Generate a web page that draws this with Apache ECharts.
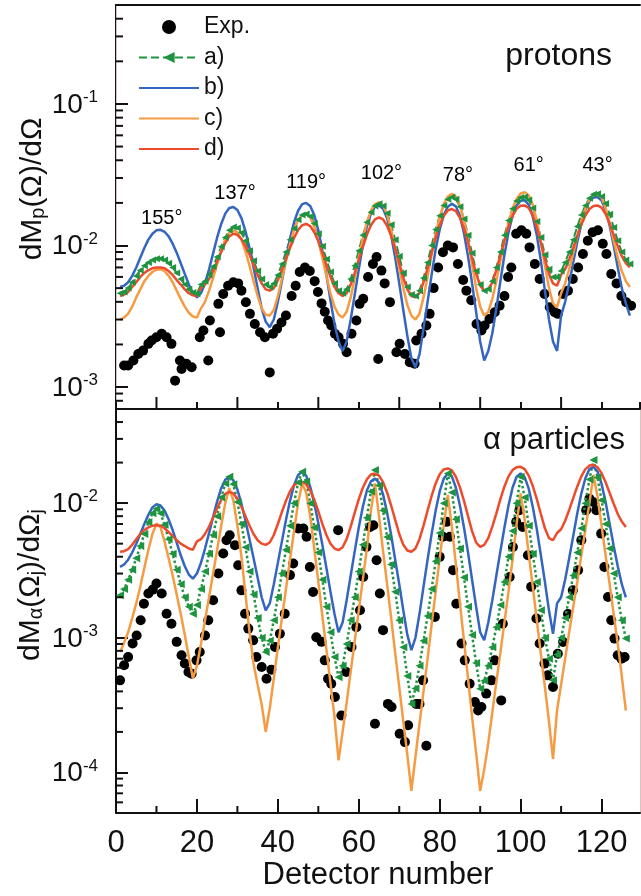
<!DOCTYPE html>
<html>
<head>
<meta charset="utf-8">
<script src="https://cdn.jsdelivr.net/npm/echarts@6.0.0/dist/echarts.min.js"></script>
<style>
html,body{margin:0;padding:0;background:#fff;}
#chart{width:641px;height:896px;}
</style>
</head>
<body>
<div id="chart"></div>
<script>
// ---------- DATA (theory curves in units of 1e-3, one value per detector) ----------
// Upper panel: protons, detectors 1..127
const protA = [4.6,4.7,5.0,5.5,6.1,6.7,7.2,7.6,7.9,8.05,8.05,7.9,7.5,7.0,6.4,5.8,5.3,4.9,4.65,4.57,
  5.3,5.6,6.2,7.1,8.3,9.8,11.4,12.8,13.5,13.3,12.3,10.8,9.2,7.8,6.6,5.8,5.3,5.1,
  5.4,6.2,7.4,9.0,11.0,13.2,15.2,16.4,16.7,16.0,14.3,12.1,9.9,8.0,6.5,5.4,4.8,4.6,
  4.9,5.8,7.2,9.2,11.8,14.6,17.2,19.0,19.7,19.0,16.9,14.0,11.0,8.4,6.4,5.1,4.5,4.4,
  4.8,5.9,7.6,10.0,13.0,16.2,19.2,21.2,22.0,21.2,18.8,15.4,11.8,8.8,6.6,5.3,4.8,4.9,
  5.6,7.0,9.0,11.8,15.0,18.2,20.6,21.8,22.0,21.0,18.4,14.8,11.4,8.6,6.8,6.0,5.97,
  6.6,7.6,9.0,11.0,13.6,16.4,19.2,21.6,23.0,23.2,22.2,19.8,16.6,13.4,10.8,9.0,7.9,7.4];
const protB = [5.1,5.2,5.5,6.1,7.0,8.2,9.6,11.0,12.1,12.8,12.9,12.5,11.6,10.3,8.9,7.5,6.3,5.3,4.6,4.3,
  4.6,5.4,6.8,8.8,11.4,14.2,16.8,18.4,18.7,17.8,15.6,12.6,9.6,7.0,5.0,3.6,2.9,2.65,
  3.0,4.0,5.6,8.0,11.2,14.6,17.6,19.6,20.0,19.0,16.4,12.8,9.2,6.2,4.1,2.8,2.1,1.8,
  2.1,3.0,4.5,6.8,10.0,13.6,16.8,18.8,19.2,18.2,15.6,11.8,8.2,5.4,3.5,2.3,1.6,1.38,
  1.7,2.6,4.0,6.2,9.4,13.0,16.4,18.8,19.7,18.9,16.2,12.2,8.4,5.4,3.4,2.1,1.54,
  1.8,2.4,3.6,5.6,8.6,12.4,16.2,19.2,20.7,20.9,19.4,16.0,11.8,7.8,4.8,3.0,2.1,1.8,
  3.2,4.0,5.4,7.6,10.6,14.2,17.8,20.6,21.8,22.0,20.8,17.8,13.8,10.0,7.0,5.0,3.9,3.2];
const protC = [3.0,3.1,3.3,3.7,4.3,4.9,5.6,6.1,6.5,6.75,6.8,6.6,6.1,5.5,4.8,4.2,3.7,3.35,3.15,3.1,
  3.6,4.0,4.8,5.9,7.4,9.2,11.0,12.3,12.8,12.4,11.0,9.1,7.2,5.6,4.4,3.6,3.25,3.2,
  3.5,4.4,5.8,7.8,10.2,12.9,15.2,16.4,16.7,15.8,13.6,10.8,8.2,6.1,4.6,3.7,3.25,3.1,
  3.4,4.3,5.9,8.2,11.2,14.6,17.6,19.6,20.2,19.2,16.6,13.0,9.6,6.9,5.0,3.8,3.2,3.0,
  3.3,4.3,6.0,8.6,12.0,15.8,19.6,22.2,23.2,22.2,19.2,15.0,10.8,7.4,5.0,3.7,3.2,3.4,
  4.2,5.6,7.8,10.8,14.4,18.2,21.4,23.3,23.8,22.6,19.4,15.0,10.6,7.2,5.0,3.9,3.66,
  4.6,5.4,6.8,8.8,11.6,14.8,18.2,21.2,22.9,23.2,21.8,18.4,14.4,10.8,8.2,6.6,5.6,5.1];
const protD = [4.4,4.5,4.7,5.1,5.5,6.0,6.4,6.7,6.9,7.0,7.0,6.9,6.6,6.2,5.7,5.3,4.9,4.6,4.45,4.4,
  5.0,5.3,5.8,6.6,7.7,9.0,10.4,11.6,12.1,11.9,11.1,9.9,8.6,7.3,6.2,5.4,4.9,4.8,
  5.0,5.7,6.7,8.0,9.6,11.3,12.9,13.9,14.2,13.7,12.4,10.7,8.9,7.3,6.0,5.1,4.6,4.4,
  4.6,5.3,6.4,7.9,9.8,11.9,13.9,15.3,15.8,15.3,13.8,11.7,9.5,7.5,5.9,4.9,4.4,4.3,
  4.6,5.5,6.9,8.9,11.3,13.9,16.2,17.7,18.1,17.5,15.7,13.2,10.5,8.1,6.3,5.2,4.8,4.9,
  5.5,6.7,8.5,10.9,13.6,16.2,18.2,19.1,19.2,18.4,16.3,13.4,10.5,8.0,6.3,5.4,5.2,
  6.2,6.8,8.0,9.6,11.7,14.0,16.3,18.1,19.0,19.2,18.5,16.7,14.3,11.9,9.9,8.4,7.5,7.0];
// Experimental protons: detector position, value (1e-3)
const protExpX = [2.0,3.0,4.3,5.5,6.7,8.0,8.8,10.0,11.3,12.5,13.7,14.6,15.8,16.2,17.4,18.7,20.7,21.6,22.8,23.2,
  25.3,25.7,26.5,27.7,29.0,30.2,31.0,32.1,33.1,34.3,35.6,36.8,38.0,38.8,39.8,40.9,42.0,43.4,44.4,45.4,
  46.7,47.9,49.1,49.9,50.8,51.6,52.4,53.2,54.1,55.0,56.1,57.0,58.2,59.4,60.2,61.1,62.3,63.5,64.4,64.8,
  65.6,66.4,67.7,69.3,70.1,71.4,72.6,73.8,74.2,75.5,76.7,77.5,78.5,79.6,80.8,82.0,83.3,84.5,85.8,86.6,
  87.8,89.1,90.3,91.1,92.3,93.6,94.8,96.0,96.9,97.7,98.9,100.2,101.4,102.2,103.5,104.7,105.9,107.2,108.4,109.2,
  110.5,111.7,112.9,114.2,115.4,116.6,117.8,119.1,120.3,121.2,122.4,123.7,124.9,126.1,127.3];
const protExpY = [1.42,1.42,1.54,1.71,1.81,2.02,2.13,2.25,2.38,2.25,2.02,1.11,1.54,1.34,1.46,1.38,2.25,2.51,1.54,2.95,
  3.87,2.44,4.55,5.2,5.5,5.4,4.8,3.97,3.29,2.79,2.44,2.25,1.27,2.38,2.58,2.86,3.2,4.4,5.2,6.5,
  7.0,6.6,5.6,4.7,3.9,3.4,2.95,2.72,2.38,2.25,2.02,1.76,2.38,2.95,3.87,4.2,6.0,7.4,8.3,1.58,
  6.65,5.4,3.98,1.76,2.02,1.71,1.5,1.46,2.13,2.38,2.72,3.29,5.0,7.0,8.97,10.0,9.7,7.4,5.7,4.8,
  4.1,2.79,2.51,2.72,3.03,3.38,3.76,4.4,6.0,7.0,12.1,12.8,12.1,9.7,7.4,5.8,4.55,3.66,3.38,3.29,
  4.55,4.8,5.8,7.0,8.7,10.8,12.4,12.8,10.3,8.7,6.3,5.4,4.4,3.97,3.76];

// Lower panel: alpha particles, detectors 1..126
const alphaA = [2.07,2.3,2.7,3.2,3.9,4.8,5.9,7.2,8.4,9.1,8.4,6.9,5.4,4.2,3.2,2.5,2.0,1.7,1.51,
  1.75,2.3,3.1,4.2,5.8,8.0,11.0,14.0,15.7,13.8,10.2,7.0,4.7,3.1,2.1,1.4,1.0,0.785,
  0.95,1.35,2.0,3.0,4.5,6.8,10.0,14.2,17.1,14.5,10.0,6.6,4.3,2.7,1.7,1.1,0.72,0.51,
  0.62,0.9,1.35,2.0,3.1,4.9,7.8,12.2,17.6,13.5,8.8,5.6,3.5,2.2,1.35,0.85,0.52,0.323,
  0.42,0.62,0.95,1.45,2.3,3.7,6.0,10.0,16.6,12.0,7.6,4.6,2.8,1.7,1.05,0.65,0.419,0.48,
  0.62,0.85,1.2,1.75,2.6,4.0,6.2,10.0,15.7,11.0,6.8,4.2,2.6,1.6,1.0,0.7,0.483,
  0.75,1.0,1.4,2.0,2.9,4.3,6.5,10.0,15.0,20.9,15.5,10.5,7.0,4.6,3.0,2.0,1.35,0.99];
const alphaB = [3.36,3.5,3.8,4.3,5.0,5.9,7.0,8.2,9.3,9.8,9.6,8.8,7.6,6.3,5.1,4.1,3.4,2.95,2.75,
  3.0,3.6,4.6,6.0,7.9,10.3,12.9,14.9,15.7,14.8,12.6,9.9,7.4,5.4,3.9,2.8,2.0,1.6,
  1.8,2.5,3.6,5.2,7.5,10.4,13.6,16.2,17.1,16.0,13.2,10.0,7.1,4.9,3.3,2.2,1.5,1.1,
  1.3,1.9,2.9,4.4,6.6,9.4,12.4,14.5,15.2,14.2,11.6,8.5,5.8,3.8,2.5,1.6,1.05,0.81,
  1.0,1.5,2.4,3.8,5.9,8.8,12.2,15.2,16.6,15.8,13.0,9.6,6.6,4.3,2.7,1.7,1.1,0.96,
  1.3,1.9,2.9,4.4,6.6,9.6,13.0,15.7,16.6,15.6,12.8,9.4,6.4,4.1,2.6,1.6,1.07,
  1.8,2.0,2.7,3.9,5.7,8.4,11.8,15.3,17.9,18.6,17.2,13.9,10.2,7.0,4.8,3.4,2.5,2.0];
const alphaC = [0.785,0.92,1.1,1.4,1.8,2.4,3.3,4.5,5.9,7.06,6.6,5.2,3.9,2.9,2.1,1.5,1.05,0.72,0.50,
  0.62,0.9,1.35,2.0,3.0,4.5,6.8,10.0,12.9,10.5,6.8,4.0,2.1,1.1,0.64,0.45,0.32,0.20,
  0.3,0.5,0.85,1.4,2.3,3.8,6.2,10.0,14.0,12.0,8.0,4.6,2.6,1.45,0.82,0.46,0.26,0.123,
  0.2,0.33,0.56,0.95,1.6,2.7,4.6,8.8,14.0,8.0,4.4,2.5,1.4,0.77,0.43,0.24,0.135,0.073,
  0.13,0.23,0.4,0.7,1.25,2.2,3.9,6.8,11.5,6.7,3.5,1.8,0.95,0.5,0.26,0.14,0.073,0.105,
  0.165,0.28,0.47,0.78,1.3,2.2,3.8,7.0,11.8,7.5,4.2,2.4,1.35,0.76,0.43,0.24,0.126,
  0.29,0.45,0.7,1.1,1.7,2.6,4.1,6.4,10.0,16.2,11.2,6.8,4.1,2.5,1.5,0.9,0.52,0.288];
const alphaD = [4.35,4.4,4.55,4.9,5.4,5.9,6.3,6.6,6.8,6.86,6.8,6.5,6.1,5.7,5.3,5.0,4.8,4.6,4.5,
  5.2,5.4,5.9,6.7,7.8,9.2,10.6,11.7,12.1,11.8,10.8,9.4,8.0,6.8,5.9,5.3,5.0,4.9,
  5.1,5.8,7.0,8.6,10.4,12.2,13.6,14.3,14.4,13.8,12.4,10.6,8.7,7.0,5.8,5.0,4.6,4.47,
  4.7,5.4,6.7,8.5,10.7,13.0,15.0,16.3,16.6,16.0,14.3,12.0,9.6,7.5,5.9,4.9,4.45,4.35,
  4.6,5.4,6.8,8.8,11.3,14.0,16.4,17.8,18.1,17.5,15.7,13.1,10.4,8.0,6.2,5.1,4.73,4.9,
  5.5,6.7,8.4,10.7,13.3,15.8,17.6,18.5,18.6,17.9,16.0,13.4,10.7,8.3,6.5,5.5,5.3,
  6.0,6.4,7.4,8.9,10.9,13.3,15.8,17.9,19.0,19.2,18.5,16.7,14.3,11.9,9.9,8.3,7.3,6.66];
const alphaExpX = [1.0,2.0,3.0,4.1,5.1,6.1,6.9,8.0,9.1,10.0,11.3,12.5,13.7,15.0,16.2,17.0,17.9,18.7,19.9,20.7,
  22.0,22.8,24.0,25.3,26.5,27.3,28.1,29.4,30.2,31.0,31.9,32.7,33.9,34.7,36.0,37.2,38.4,39.3,40.5,41.7,
  43.0,43.8,45.0,46.3,47.1,47.9,48.7,49.5,50.8,51.6,52.4,53.2,54.1,54.9,55.7,56.9,58.2,59.4,60.3,61.1,
  61.9,62.8,63.6,64.0,64.4,65.2,66.0,67.2,68.1,70.1,71.4,72.2,74.2,75.0,75.9,76.7,78.8,80.0,80.8,81.7,
  82.5,83.3,84.1,85.4,86.2,87.4,88.7,89.5,90.3,91.5,92.8,93.6,95.2,95.6,97.3,98.1,98.9,99.7,100.5,101.8,
  102.6,103.9,104.7,105.9,106.7,108.0,109.2,110.5,111.7,112.9,114.2,115.0,116.2,117.0,117.9,118.7,119.9,120.7,121.6,122.4,
  123.2,124.0,124.9,125.7];
const alphaExpY = [0.483,0.625,0.72,0.906,1.04,1.35,1.79,2.13,2.28,2.53,2.13,1.51,1.27,0.933,0.741,0.645,0.557,0.541,0.68,0.785,
  1.04,1.35,1.9,3.0,4.23,5.3,5.78,4.87,3.46,2.25,1.51,1.17,0.957,0.72,0.607,0.497,0.58,0.855,1.07,1.51,
  2.92,3.56,6.48,6.48,5.62,3.36,2.19,1.01,0.933,0.68,0.497,0.456,0.363,6.3,0.265,0.557,0.855,1.2,1.6,2.83,
  4.73,6.66,6.85,0.23,3.77,2.13,1.14,0.323,0.306,0.194,0.168,0.224,0.323,0.323,0.483,0.158,1.43,3.99,5.62,7.26,
  5.62,3.18,1.79,0.906,0.68,0.456,0.333,0.289,0.306,0.385,0.483,0.68,0.343,1.27,2.83,4.73,7.26,8.87,6.66,4.1,
  2.39,1.39,0.906,0.643,0.526,0.431,0.762,0.931,1.5,2.25,3.18,5.31,8.87,10.8,10.2,8.87,5.94,3.36,2.01,1.35,
  0.986,0.741,0.7,0.72];

// Angle labels above the proton peaks
const angleLabels = ['155°','137°','119°','102°','78°','61°','43°'];
const angleX = [11.3, 29.4, 47.0, 65.6, 84.5, 102.0, 119.0];
const angleY = [0.0155, 0.0233, 0.0279, 0.0323, 0.0313, 0.0367, 0.0367];

// Axis ticks
const xMinor = [10, 30, 50, 70, 90, 110];
const yMinorProt = [8e-4,9e-4,2e-3,3e-3,4e-3,5e-3,6e-3,7e-3,8e-3,9e-3,2e-2,3e-2,4e-2,5e-2,6e-2,7e-2,8e-2,9e-2,0.2,0.3,0.4];
const yMinorAlpha = [6e-5,7e-5,8e-5,9e-5,2e-4,3e-4,4e-4,5e-4,6e-4,7e-4,8e-4,9e-4,2e-3,3e-3,4e-3,5e-3,6e-3,7e-3,8e-3,9e-3,2e-2,3e-2,4e-2];

const P_MIN = 7e-4, P_MAX = 0.5, A_MIN = 5e-5, A_MAX = 5e-2, X_MIN = 0, X_MAX = 129.5;

// ---------- BUILD ----------
const FONT = 'Liberation Sans, Arial, Helvetica, sans-serif';
const C_GREEN = '#1f9440', C_BLUE = '#3465c0', C_ORANGE = '#f69b42', C_RED = '#ee4b2b';
const toPairs = arr => arr.map((v, i) => [i + 1, v * 1e-3]);
const zipPairs = (xs, ys) => xs.map((x, i) => [x, ys[i] * 1e-3]);

function tickSeries(xi, yi, data, dir, len) {
  return {
    type: 'custom', xAxisIndex: xi, yAxisIndex: yi, silent: true, clip: false, z: 10,
    data: data,
    renderItem: function (params, api) {
      const p = api.coord([api.value(0), api.value(1)]);
      const shape = dir === 'y'
        ? { x1: p[0], y1: p[1], x2: p[0] + len, y2: p[1] }
        : { x1: p[0], y1: p[1], x2: p[0], y2: p[1] - len };
      return { type: 'line', shape: shape, style: { stroke: '#111', lineWidth: 2 } };
    }
  };
}

const logLabel = {
  margin: 18,
  showMinLabel: false, showMaxLabel: false,
  formatter: function (v) { const e = Math.round(Math.log10(v)); return '{b|10}{s|' + e + '}'; },
  rich: {
    b: { fontSize: 28, fontFamily: FONT, color: '#111', verticalAlign: 'bottom', lineHeight: 30 },
    s: { fontSize: 17, fontFamily: FONT, color: '#111', verticalAlign: 'top', lineHeight: 30 }
  }
};

const lineBase = { type: 'line', showSymbol: false, symbol: 'none', animation: false, z: 3 };
const noSym = { opacity: 0 };

const option = {
  animation: false,
  backgroundColor: '#fff',
  textStyle: { fontFamily: FONT },
  grid: [
    { left: 116, top: 5, width: 524, height: 404 },
    { left: 116, top: 409, width: 524, height: 404 }
  ],
  legend: {
    left: 133, top: 7, orient: 'vertical', itemWidth: 60, itemHeight: 14, itemGap: 0.5,
    textStyle: { fontSize: 23, fontFamily: FONT, color: '#111', lineHeight: 30 },
    data: ['Exp.', 'a)', { name: 'b)', itemStyle: noSym }, { name: 'c)', itemStyle: noSym }, { name: 'd)', itemStyle: noSym }],
    selectedMode: false
  },
  xAxis: [
    { gridIndex: 0, type: 'value', min: X_MIN, max: X_MAX, interval: 20, position: 'bottom',
      axisLine: { lineStyle: { color: '#111', width: 2 } },
      axisTick: { inside: true, length: 7, lineStyle: { color: '#111', width: 2 } },
      axisLabel: { show: false }, splitLine: { show: false } },
    { gridIndex: 0, type: 'value', min: X_MIN, max: X_MAX, position: 'top',
      axisLine: { show: true, lineStyle: { color: '#111', width: 2 } },
      axisTick: { show: false }, axisLabel: { show: false }, splitLine: { show: false } },
    { gridIndex: 1, type: 'value', min: X_MIN, max: X_MAX, interval: 20, position: 'bottom',
      axisLine: { lineStyle: { color: '#111', width: 2 } },
      axisTick: { inside: true, length: 14, lineStyle: { color: '#111', width: 2 } },
      axisLabel: { fontSize: 31, fontFamily: FONT, color: '#111', margin: 15, showMaxLabel: false },
      splitLine: { show: false },
      name: 'Detector number', nameLocation: 'middle', nameGap: 47,
      nameTextStyle: { fontSize: 31, fontFamily: FONT, color: '#111' } }
  ],
  yAxis: [
    { gridIndex: 0, type: 'log', logBase: 10, min: P_MIN, max: P_MAX,
      axisLine: { show: true, lineStyle: { color: '#111', width: 2 } },
      axisTick: { inside: true, length: 12, lineStyle: { color: '#111', width: 2 } },
      axisLabel: logLabel, splitLine: { show: false } },
    { gridIndex: 0, type: 'value', position: 'right', min: 0, max: 1,
      axisLine: { show: true, lineStyle: { color: '#dcc3bc', width: 1 } },
      axisTick: { show: false }, axisLabel: { show: false }, splitLine: { show: false } },
    { gridIndex: 1, type: 'log', logBase: 10, min: A_MIN, max: A_MAX,
      axisLine: { show: true, lineStyle: { color: '#111', width: 2 } },
      axisTick: { inside: true, length: 12, lineStyle: { color: '#111', width: 2 } },
      axisLabel: logLabel, splitLine: { show: false } },
    { gridIndex: 1, type: 'value', position: 'right', min: 0, max: 1,
      axisLine: { show: true, lineStyle: { color: '#dcc3bc', width: 1 } },
      axisTick: { show: false }, axisLabel: { show: false }, splitLine: { show: false } }
  ],
  graphic: [
    { type: 'text', x: 33, y: 189, rotation: Math.PI / 2,
      style: { text: 'dM{sub|p}(Ω)/dΩ', align: 'center', verticalAlign: 'middle',
        fontSize: 30, fontFamily: FONT, fill: '#111',
        rich: { sub: { fontSize: 20, fontFamily: FONT, fill: '#111', verticalAlign: 'bottom', padding: [8, 0, 0, 0] } } } },
    { type: 'text', x: 31, y: 585, rotation: Math.PI / 2,
      style: { text: 'dM{sub|α}(Ω{sub|j})/dΩ{sub|j}', align: 'center', verticalAlign: 'middle',
        fontSize: 30, fontFamily: FONT, fill: '#111',
        rich: { sub: { fontSize: 20, fontFamily: FONT, fill: '#111', verticalAlign: 'bottom', padding: [8, 0, 0, 0] } } } },
    { type: 'text', x: 612, y: 56,
      style: { text: 'protons', align: 'right', verticalAlign: 'middle', fontSize: 32, fontFamily: FONT, fill: '#111' } },
    { type: 'text', x: 625, y: 440,
      style: { text: 'α particles', align: 'right', verticalAlign: 'middle', fontSize: 31, fontFamily: FONT, fill: '#111' } }
  ],
  series: [
    // upper panel
    { name: 'Exp.', type: 'scatter', xAxisIndex: 0, yAxisIndex: 0, symbol: 'circle', symbolSize: 10,
      itemStyle: { color: '#000', opacity: 1 }, z: 2, data: zipPairs(protExpX, protExpY) },
    Object.assign({}, lineBase, { name: 'a)', xAxisIndex: 0, yAxisIndex: 0, data: toPairs(protA),
      showSymbol: true, showAllSymbol: true, symbol: 'triangle', symbolRotate: 90, symbolSize: 7,
      itemStyle: { color: C_GREEN }, lineStyle: { color: C_GREEN, width: 2, type: 'dashed' } }),
    Object.assign({}, lineBase, { name: 'b)', xAxisIndex: 0, yAxisIndex: 0, data: toPairs(protB),
      itemStyle: { color: C_BLUE }, lineStyle: { color: C_BLUE, width: 2.5 } }),
    Object.assign({}, lineBase, { name: 'c)', xAxisIndex: 0, yAxisIndex: 0, data: toPairs(protC),
      itemStyle: { color: C_ORANGE }, lineStyle: { color: C_ORANGE, width: 2.5 } }),
    Object.assign({}, lineBase, { name: 'd)', xAxisIndex: 0, yAxisIndex: 0, data: toPairs(protD),
      itemStyle: { color: C_RED }, lineStyle: { color: C_RED, width: 2.5 } }),
    // lower panel
    { name: 'Exp.', type: 'scatter', xAxisIndex: 2, yAxisIndex: 2, symbol: 'circle', symbolSize: 10,
      itemStyle: { color: '#000', opacity: 1 }, z: 2, data: zipPairs(alphaExpX, alphaExpY) },
    Object.assign({}, lineBase, { name: 'a)', xAxisIndex: 2, yAxisIndex: 2, data: toPairs(alphaA),
      showSymbol: true, showAllSymbol: true, symbol: 'triangle', symbolRotate: 90, symbolSize: 8,
      itemStyle: { color: C_GREEN }, lineStyle: { color: C_GREEN, width: 2.5, type: 'dotted' } }),
    Object.assign({}, lineBase, { name: 'b)', xAxisIndex: 2, yAxisIndex: 2, data: toPairs(alphaB),
      itemStyle: { color: C_BLUE }, lineStyle: { color: C_BLUE, width: 2.5 } }),
    Object.assign({}, lineBase, { name: 'c)', xAxisIndex: 2, yAxisIndex: 2, data: toPairs(alphaC),
      itemStyle: { color: C_ORANGE }, lineStyle: { color: C_ORANGE, width: 2.5 } }),
    Object.assign({}, lineBase, { name: 'd)', xAxisIndex: 2, yAxisIndex: 2, data: toPairs(alphaD),
      itemStyle: { color: C_RED }, lineStyle: { color: C_RED, width: 2.5 } }),
    // angle labels
    { type: 'scatter', xAxisIndex: 0, yAxisIndex: 0, symbolSize: 1, itemStyle: { color: 'rgba(0,0,0,0)' },
      silent: true, z: 6,
      label: { show: true, position: 'inside', formatter: '{b}', fontSize: 20, fontFamily: FONT,
        color: '#000', textBorderWidth: 0, opacity: 1 },
      data: angleLabels.map((t, i) => ({ name: t, value: [angleX[i], angleY[i]] })) },
    // minor ticks
    tickSeries(0, 0, yMinorProt.map(v => [X_MIN, v]), 'y', 7),
    tickSeries(2, 2, yMinorAlpha.map(v => [X_MIN, v]), 'y', 7),
    tickSeries(0, 0, xMinor.map(v => [v, P_MIN]), 'x', 12),
    tickSeries(2, 2, xMinor.map(v => [v, A_MIN]), 'x', 7)
  ]
};

const chart = echarts.init(document.getElementById('chart'), null, { renderer: 'canvas' });
chart.setOption(option);
</script>
</body>
</html>
